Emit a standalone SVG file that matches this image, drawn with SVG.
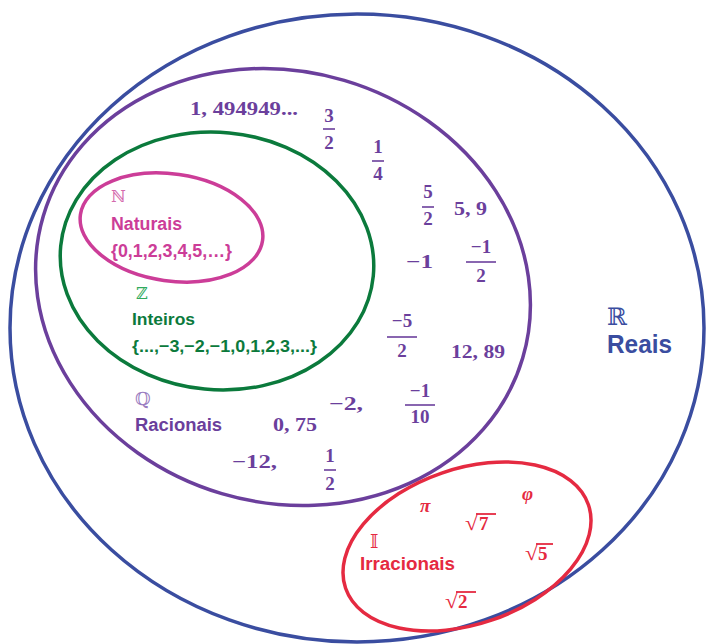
<svg xmlns="http://www.w3.org/2000/svg" width="707" height="644" viewBox="0 0 707 644">
<style>
.set{fill:none;stroke-width:3.5}
.m{font-family:"Liberation Serif","DejaVu Serif",serif;font-weight:bold;font-size:19px}
.mc{text-anchor:middle}
.rad{font-family:"Liberation Serif","DejaVu Serif",serif;font-weight:bold;font-size:21px}
.lab{font-family:"Liberation Sans","Arial",sans-serif;font-weight:bold}
.ds{font-family:"DejaVu Serif","DejaVu Sans",serif;font-weight:normal}
.q{fill:#6b3f9c}
.qs{stroke:#6b3f9c;stroke-width:1.6}
.r{fill:#e52a41}
.rs{stroke:#e52a41;stroke-width:1.8}
</style>
<rect width="707" height="644" fill="#ffffff"/>
<g id="reais">
  <ellipse class="set" cx="357" cy="328" rx="347" ry="314" stroke="#3a4da0"/>
  <text class="ds" x="607" y="325" font-size="24" fill="#3a4da0">ℝ</text>
  <text class="lab" x="607" y="353" font-size="26" fill="#3a4da0" textLength="65" lengthAdjust="spacingAndGlyphs">Reais</text>
</g>
<g id="racionais">
  <ellipse class="set" cx="283" cy="287" rx="250" ry="215.5" transform="rotate(16.5 283 287)" stroke="#6b3f9c"/>
  <text class="ds" x="135" y="405" font-size="18" fill="#9a7cc0">ℚ</text>
  <text class="lab q" x="135" y="431" font-size="18" textLength="87" lengthAdjust="spacingAndGlyphs">Racionais</text>
  <text class="m q" x="190" y="115" textLength="108" lengthAdjust="spacingAndGlyphs">1, 494949...</text>
  <text class="m q mc" x="329" y="122">3</text><line class="qs" x1="323" y1="129" x2="335" y2="129"/><text class="m q mc" x="329" y="149">2</text>
  <text class="m q mc" x="378" y="153">1</text><line class="qs" x1="372" y1="161" x2="384" y2="161"/><text class="m q mc" x="378" y="180">4</text>
  <text class="m q mc" x="428" y="198">5</text><line class="qs" x1="422" y1="207" x2="434" y2="207"/><text class="m q mc" x="428" y="225">2</text>
  <text class="m q" x="454" y="215" textLength="33" lengthAdjust="spacingAndGlyphs">5, 9</text>
  <text class="m q" x="406" y="268" textLength="27" lengthAdjust="spacingAndGlyphs">−1</text>
  <text class="m q mc" x="481" y="253">−1</text><line class="qs" x1="466" y1="262" x2="496" y2="262"/><text class="m q mc" x="481" y="282">2</text>
  <text class="m q mc" x="402" y="327">−5</text><line class="qs" x1="387" y1="337" x2="417" y2="337"/><text class="m q mc" x="402" y="357">2</text>
  <text class="m q" x="451" y="358" textLength="54" lengthAdjust="spacingAndGlyphs">12, 89</text>
  <text class="m q" x="273" y="431" textLength="44" lengthAdjust="spacingAndGlyphs">0, 75</text>
  <text class="m q" x="329" y="410" textLength="34" lengthAdjust="spacingAndGlyphs">−2,</text>
  <text class="m q mc" x="420" y="397">−1</text><line class="qs" x1="405" y1="405" x2="435" y2="405"/><text class="m q mc" x="420" y="423">10</text>
  <text class="m q" x="232" y="468" textLength="45" lengthAdjust="spacingAndGlyphs">−12,</text>
  <text class="m q mc" x="330" y="462">1</text><line class="qs" x1="324" y1="470" x2="336" y2="470"/><text class="m q mc" x="330" y="490">2</text>
</g>
<g id="inteiros">
  <ellipse class="set" cx="217" cy="261" rx="157" ry="128.7" transform="rotate(5.5 217 261)" stroke="#0b7a3c"/>
  <text class="ds" x="136" y="299" font-size="16" fill="#2faa5c">ℤ</text>
  <text class="lab" x="132" y="325" font-size="17" fill="#0b7a3c" textLength="63" lengthAdjust="spacingAndGlyphs">Inteiros</text>
  <text class="lab" x="132" y="352" font-size="17" fill="#0b7a3c" textLength="185" lengthAdjust="spacingAndGlyphs">{...,−3,−2,−1,0,1,2,3,...}</text>
</g>
<g id="naturais">
  <ellipse class="set" cx="171.5" cy="227.5" rx="92" ry="53.5" transform="rotate(8.2 171.5 227.5)" stroke="#cc3d98"/>
  <text class="ds" x="111" y="202" font-size="16" fill="#d46aad">ℕ</text>
  <text class="lab" x="111" y="230" font-size="18" fill="#cc3d98" textLength="71" lengthAdjust="spacingAndGlyphs">Naturais</text>
  <text class="lab" x="111" y="257" font-size="17.5" fill="#cc3d98" textLength="121" lengthAdjust="spacingAndGlyphs">{0,1,2,3,4,5,…}</text>
</g>
<g id="irracionais">
  <ellipse class="set" cx="467" cy="546.5" rx="128.4" ry="77.7" transform="rotate(-19 467 546.5)" stroke="#e52a41"/>
  <text class="ds" x="370" y="548" font-size="18" fill="#e52a41">𝕀</text>
  <text class="lab r" x="360" y="570" font-size="18" textLength="95" lengthAdjust="spacingAndGlyphs">Irracionais</text>
  <text class="m r" x="420" y="512" font-style="italic">π</text>
  <text class="m r" x="522" y="500" font-style="italic">φ</text>
  <text class="rad r" x="465" y="530" textLength="13" lengthAdjust="spacingAndGlyphs">√</text><text class="m r" x="479" y="530">7</text><line class="rs" x1="476" y1="514" x2="496" y2="514"/>
  <text class="rad r" x="525" y="560" textLength="13" lengthAdjust="spacingAndGlyphs">√</text><text class="m r" x="538" y="560">5</text><line class="rs" x1="536" y1="544" x2="553" y2="544"/>
  <text class="rad r" x="445" y="608" textLength="13" lengthAdjust="spacingAndGlyphs">√</text><text class="m r" x="458" y="608">2</text><line class="rs" x1="456" y1="592" x2="476" y2="592"/>
</g>
<g id="connectors"></g>
</svg>
